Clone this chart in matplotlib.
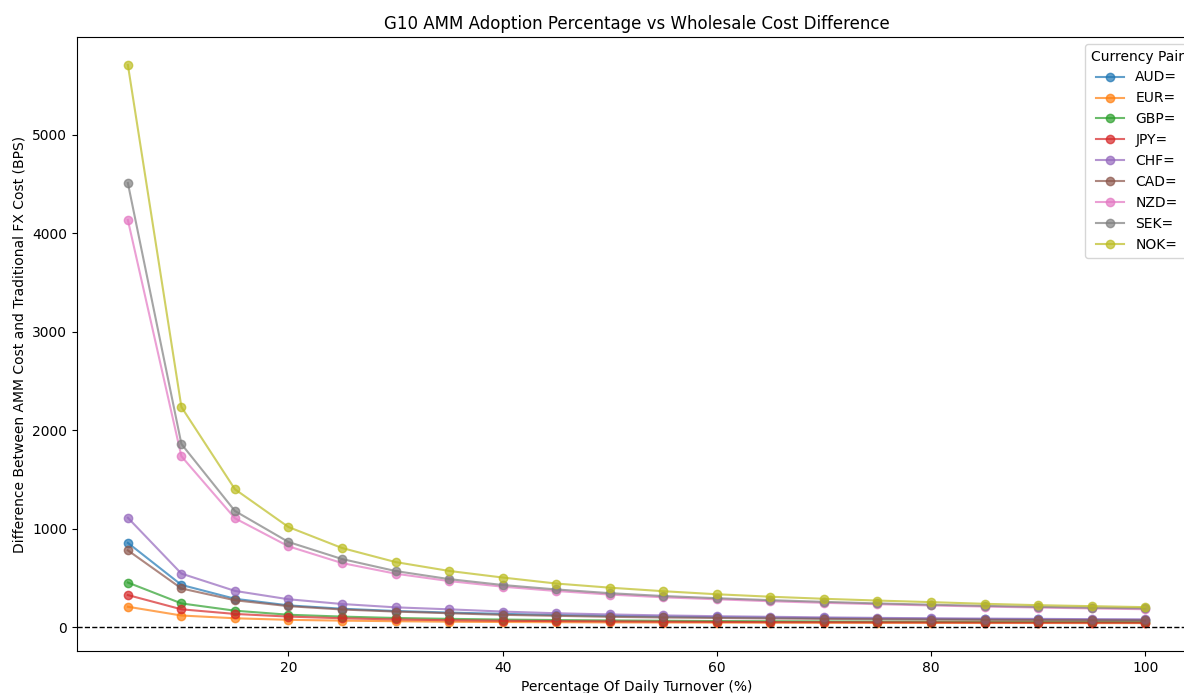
import matplotlib
matplotlib.use("Agg")
import matplotlib.pyplot as plt

turnover = [5, 10, 15, 20, 25, 30, 35, 40, 45, 50, 55, 60, 65, 70, 75, 80, 85, 90, 95, 100]

pairs = ["AUD=", "EUR=", "GBP=", "JPY=", "CHF=", "CAD=", "NZD=", "SEK=", "NOK="]

aud = [855, 428, 287, 220, 186, 163, 147, 134, 122, 113, 106, 100, 95, 90, 86, 83, 80, 77, 74, 72]
eur = [206, 117, 89, 73, 65, 59, 54, 51, 49, 47, 46, 45, 44, 43, 42, 42, 41, 41, 40, 40]
gbp = [452, 240, 166, 125, 106, 92, 83, 76, 71, 67, 64, 61, 59, 57, 55, 54, 53, 52, 51, 50]
jpy = [325, 180, 133, 106, 89, 77, 69, 64, 60, 57, 54, 52, 50, 49, 48, 47, 46, 45, 45, 44]
chf = [1110, 543, 367, 282, 234, 200, 180, 157, 140, 128, 118, 110, 104, 98, 93, 89, 86, 83, 80, 78]
cad = [779, 392, 272, 212, 178, 157, 140, 124, 114, 104, 97, 92, 87, 83, 79, 76, 73, 71, 69, 67]
nzd = [4136, 1735, 1105, 820, 650, 542, 467, 410, 366, 330, 302, 282, 262, 246, 232, 219, 208, 198, 189, 181]
sek = [4512, 1860, 1179, 864, 691, 569, 487, 427, 382, 344, 315, 293, 273, 256, 240, 227, 215, 205, 196, 189]
nok = [5712, 2236, 1400, 1016, 803, 660, 570, 503, 442, 400, 364, 333, 308, 287, 269, 253, 236, 222, 212, 202]

series = [aud, eur, gbp, jpy, chf, cad, nzd, sek, nok]

W, H = 1184, 693
fig = plt.figure(figsize=(W / 100, H / 100), dpi=100)
left, right, top, bottom = 77, 1196, 37, 651
ax = fig.add_axes([left / W, (H - bottom) / H, (right - left) / W, (bottom - top) / H])

for name, vals in zip(pairs, series):
    ax.plot(turnover, vals, marker="o", alpha=0.7, label=name)

ax.axhline(0, color="black", linestyle="--", linewidth=1)

ax.set_title("G10 AMM Adoption Percentage vs Wholesale Cost Difference")
ax.set_xlabel("Percentage Of Daily Turnover (%)")
ax.set_ylabel("Difference Between AMM Cost and Traditional FX Cost (BPS)")
ax.legend(title="Currency Pair", loc="upper right")

fig.savefig("out.png", dpi=100)
